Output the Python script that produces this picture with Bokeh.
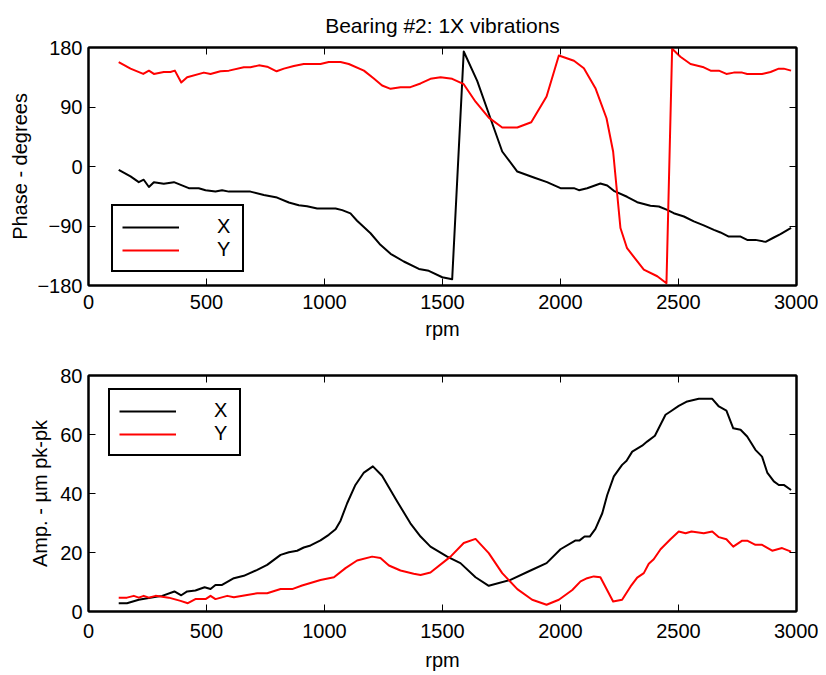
from bokeh.plotting import figure
from bokeh.models import LinearAxis, FixedTicker, Range1d
from bokeh.layouts import column
from bokeh.embed import file_html
from bokeh.resources import INLINE

FONT = "Liberation Sans"

title_text = "Bearing #2: 1X vibrations"
x_label = "rpm"
phase_label = "Phase - degrees"
amp_label = "Amp. - µm pk-pk"
x_ticks = [0, 500, 1000, 1500, 2000, 2500, 3000]
phase_ticks = [-180, -90, 0, 90, 180]
amp_ticks = [0, 20, 40, 60, 80]

# Phase, X direction
phase_x_rpm = [128, 178, 213, 234, 256, 277, 319, 362, 425, 467, 496, 538, 566, 595, 686, 743, 799,
               849, 891, 926, 969, 1047, 1075, 1110, 1138, 1195, 1237, 1280, 1336, 1400, 1442, 1499,
               1541, 1590, 1647, 1703, 1753, 1817, 1887, 1943, 2000, 2057, 2078, 2113, 2169, 2198,
               2226, 2282, 2325, 2381, 2417, 2452, 2480, 2523, 2565, 2607, 2650, 2678, 2713, 2763,
               2791, 2826, 2869, 2904, 2932, 2977]
phase_x = [-5, -15, -23.7, -20, -31, -23.7, -26, -23.7, -32.8, -32.8, -35.8, -37.8, -35.8, -38, -38,
           -43, -47, -54.5, -58.5, -60, -63.5, -63.5, -66, -71, -82, -101, -118.5, -132, -143.7,
           -155, -157.8, -167.5, -170.5, 174, 129.6, 73, 22.7, -7.6, -16.6, -23.7, -32.8, -32.8,
           -35.8, -32.8, -25.7, -28.7, -36.8, -45.8, -54, -59.5, -60.5, -65.6, -70.6, -75.6, -83,
           -89, -95.8, -99.8, -106, -106, -111, -111, -114, -107.4, -102.4, -93]

# Phase, Y direction
phase_y_rpm = [128, 178, 232, 256, 277, 319, 347, 366, 393, 418, 489, 517, 559, 595, 658, 686, 722,
               757, 797, 828, 870, 912, 983, 1018, 1068, 1103, 1167, 1209, 1244, 1280, 1322, 1364,
               1407, 1449, 1492, 1541, 1590, 1640, 1696, 1753, 1817, 1876, 1941, 1993, 2057, 2099,
               2148, 2195, 2223, 2254, 2282, 2353, 2410, 2449, 2473, 2508, 2551, 2607, 2636, 2671,
               2703, 2734, 2770, 2791, 2854, 2890, 2925, 2946, 2977]
phase_y = [158, 148, 140, 145, 140, 143, 143, 145, 127, 135, 142, 140, 144, 145, 150, 150, 153, 151,
           144, 148, 152, 155, 155, 158, 158, 155, 145, 133, 122.5, 117.5, 120, 120, 125.6, 132.6,
           135, 132.6, 124.5, 98, 74, 59, 59, 67, 106, 168, 160, 148.7, 118.5, 73, 22.7, -93,
           -123.6, -156, -166, -176.5, 178, 166, 155, 150, 145, 145, 140, 142, 142, 140, 140, 143,
           148, 148, 145]

# Amplitude, X direction
amp_x_rpm = [128, 163, 213, 249, 312, 364, 393, 418, 453, 492, 517, 538, 566, 616, 658, 715, 757,
             814, 849, 884, 912, 941, 983, 1018, 1047, 1068, 1096, 1131, 1167, 1205, 1244, 1308,
             1364, 1407, 1449, 1520, 1576, 1640, 1696, 1788, 1873, 1941, 2000, 2064, 2081, 2102,
             2124, 2148, 2177, 2198, 2226, 2261, 2280, 2304, 2346, 2367, 2400, 2445, 2466, 2501,
             2537, 2586, 2643, 2671, 2703, 2732, 2763, 2791, 2826, 2854, 2876, 2904, 2925, 2946,
             2977]
amp_x = [2.8, 2.8, 4, 4.5, 5.3, 6.8, 5.5, 6.8, 7.1, 8.2, 7.6, 9, 9, 11.3, 12.1, 14.1, 15.8, 19.2,
         20.1, 20.6, 21.7, 22.4, 24.1, 26, 27.9, 30.8, 36.7, 42.9, 47.1, 49.2, 46, 37.3, 29.9, 25.4,
         22, 18.6, 16.4, 11.6, 8.7, 10.7, 13.9, 16.4, 21.1, 24.1, 24.1, 25.4, 25.4, 28, 33.3, 39.5,
         45.8, 49.7, 51.1, 54.2, 56.2, 57.6, 59.6, 66.7, 67.8, 69.7, 71.2, 72.1, 72.1, 69.5, 68.1,
         62.1, 61.6, 59.3, 54.8, 52.5, 47.1, 44.1, 42.9, 42.9, 41.2]

# Amplitude, Y direction
amp_y_rpm = [128, 163, 192, 213, 234, 256, 284, 312, 340, 390, 421, 453, 496, 517, 538, 588, 616,
             672, 715, 757, 814, 863, 905, 983, 1040, 1089, 1138, 1202, 1237, 1273, 1322, 1378,
             1407, 1449, 1534, 1590, 1640, 1696, 1753, 1817, 1880, 1941, 1993, 2050, 2085, 2113,
             2141, 2169, 2223, 2261, 2297, 2325, 2353, 2374, 2395, 2424, 2466, 2501, 2530, 2555,
             2607, 2643, 2671, 2703, 2732, 2770, 2791, 2826, 2854, 2897, 2939, 2977]
amp_y = [4.7, 4.7, 5.3, 4.7, 5.3, 4.7, 5.3, 5, 4.7, 3.6, 2.8, 4.2, 4.2, 5.3, 4.2, 5.3, 4.8, 5.6,
         6.2, 6.2, 7.6, 7.6, 8.8, 10.7, 11.6, 14.7, 17.3, 18.6, 18.1, 15.6, 13.9, 12.8, 12.4, 13.2,
         18.6, 23.2, 24.6, 19.8, 13, 7.6, 4, 2.3, 4, 7.3, 10.2, 11.3, 11.9, 11.6, 3.4, 4, 8.5,
         11.5, 13, 16.2, 17.7, 21.1, 24.5, 27.1, 26.5, 27.1, 26.5, 27.1, 25.2, 24.5, 22, 24, 24,
         22.6, 22.6, 20.6, 21.5, 20.3]


def style(p, yticks, ylabel, xstand, xlabstand, ylabstand):
    p.outline_line_color = "black"
    p.outline_line_width = 2
    p.outline_line_alpha = 1
    p.grid.visible = False
    p.background_fill_color = "white"
    p.border_fill_color = "white"
    p.xaxis.ticker = FixedTicker(ticks=x_ticks)
    p.yaxis.ticker = FixedTicker(ticks=yticks)
    p.xaxis.axis_label = x_label
    p.yaxis.axis_label = ylabel
    for ax in p.xaxis + p.yaxis:
        ax.major_tick_in = 7
        ax.major_tick_out = 0
        ax.major_tick_line_width = 1
        ax.minor_tick_line_color = None
        ax.axis_line_width = 2
        ax.major_label_text_font = FONT
        ax.major_label_text_font_size = "20px"
        ax.major_label_text_color = "black"
        ax.axis_label_text_font = FONT
        ax.axis_label_text_font_size = "20px"
        ax.axis_label_text_font_style = "normal"
        ax.axis_label_text_color = "black"
    p.xaxis.major_label_standoff = xstand
    p.xaxis.axis_label_standoff = xlabstand
    p.yaxis.major_label_standoff = 6
    p.yaxis.axis_label_standoff = ylabstand
    top = LinearAxis(ticker=FixedTicker(ticks=x_ticks), major_label_text_font_size="0px",
                     major_tick_in=7, major_tick_out=0, minor_tick_line_color=None,
                     axis_line_width=2, major_label_standoff=0)
    right = LinearAxis(ticker=FixedTicker(ticks=yticks), major_label_text_font_size="0px",
                       major_tick_in=7, major_tick_out=0, minor_tick_line_color=None,
                       axis_line_width=2, major_label_standoff=0)
    p.add_layout(top, "above")
    p.add_layout(right, "right")


p1 = figure(frame_width=708, frame_height=238, output_backend="svg", toolbar_location=None,
            x_range=Range1d(0, 3000), y_range=Range1d(-180, 180),
            min_border_left=88, min_border_right=22, min_border_top=46, min_border_bottom=64)
p1.title.text = title_text
p1.title.text_font = FONT
p1.title.text_font_size = "21px"
p1.title.text_font_style = "normal"
p1.title.text_color = "black"
p1.title.align = "center"
p1.title.offset = 4
p1.title.standoff = 22
p1.line(phase_x_rpm, phase_x, line_color="black", line_width=2, line_join="round", legend_label="X")
p1.line(phase_y_rpm, phase_y, line_color="#ff0000", line_width=2, line_join="round", legend_label="Y")
style(p1, phase_ticks, phase_label, 9, 6, 3)

p2 = figure(frame_width=708, frame_height=236, output_backend="svg", toolbar_location=None,
            x_range=Range1d(0, 3000), y_range=Range1d(0, 80),
            min_border_left=88, min_border_right=22, min_border_top=26, min_border_bottom=57)
p2.line(amp_x_rpm, amp_x, line_color="black", line_width=2, line_join="round", legend_label="X")
p2.line(amp_y_rpm, amp_y, line_color="#ff0000", line_width=2, line_join="round", legend_label="Y")
style(p2, amp_ticks, amp_label, 12, 8, 6)

for p, loc in ((p1, (23, 13)), (p2, (20, 155))):
    lg = p.legend[0]
    lg.location = loc
    lg.border_line_color = "black"
    lg.border_line_alpha = 1
    lg.border_line_width = 2
    lg.background_fill_alpha = 1
    lg.glyph_width = 57
    lg.glyph_height = 20
    lg.label_height = 20
    lg.label_width = 16
    lg.label_standoff = 38
    lg.label_text_font = FONT
    lg.label_text_font_size = "20px"
    lg.label_text_color = "black"
    lg.padding = 9
    lg.spacing = 0
    lg.margin = 0

layout = column(p1, p2, spacing=0)
open("out.html", "w").write(file_html(layout, INLINE))
